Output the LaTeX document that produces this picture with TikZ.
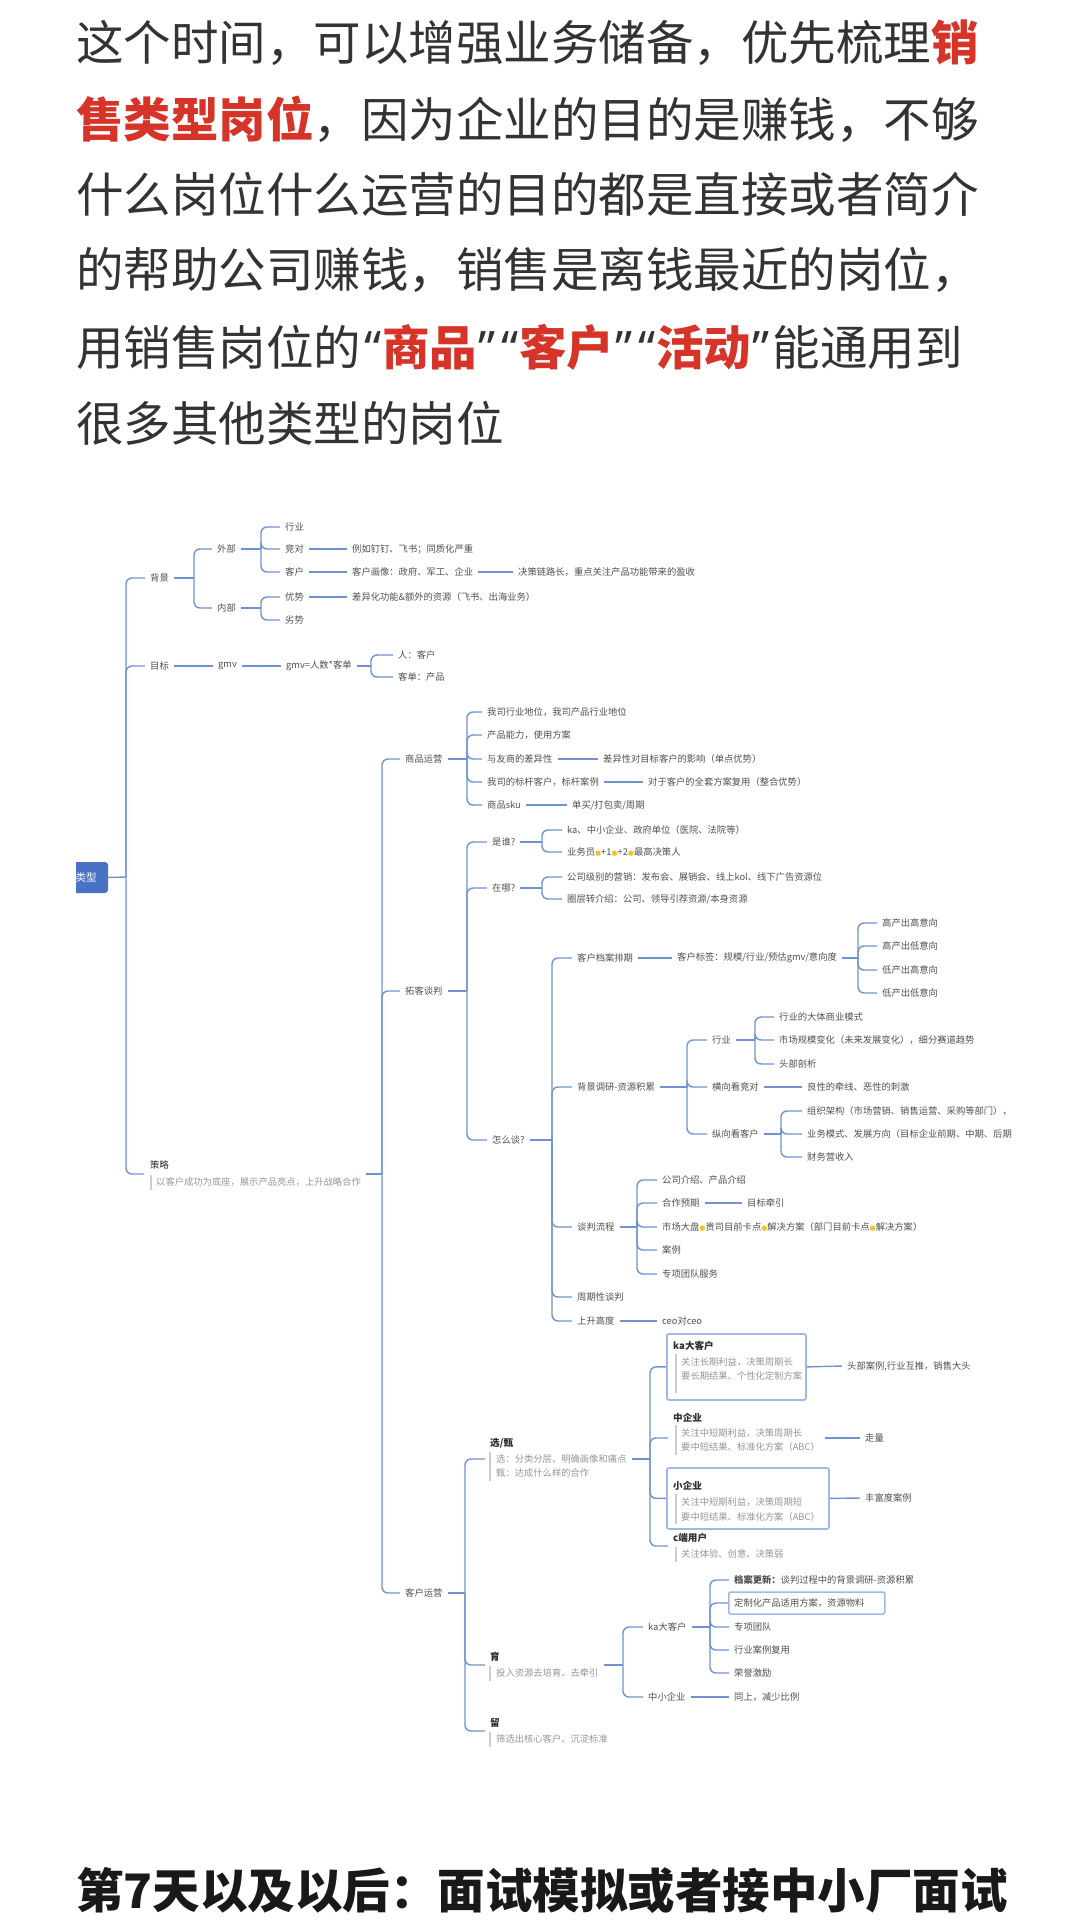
\documentclass[tikz,border=0pt]{standalone}
\usepackage{fontspec}
\setmainfont{Noto Sans CJK SC}
\newfontfamily\symfont{DejaVu Sans}
\newfontfamily\qfont{Noto Sans}
\definecolor{lnc}{RGB}{112,146,208}
\definecolor{rootc}{RGB}{72,114,196}
\definecolor{mtxt}{RGB}{51,51,51}
\definecolor{redc}{RGB}{214,52,40}
\definecolor{txc}{RGB}{80,80,80}
\definecolor{ttc}{RGB}{45,45,45}
\definecolor{subc}{RGB}{150,150,150}
\definecolor{barc}{RGB}{205,205,205}
\definecolor{boxc}{RGB}{160,184,230}
\definecolor{ydc}{RGB}{246,196,40}
\newcommand\yd{{\symfont\fontsize{7}{8}\selectfont\textcolor{ydc}{●}}}
\newcommand\redpart[1]{{\color{redc}\bfseries #1}}
\newcommand\myoq{{\hspace{3pt}\qfont “\hspace{1pt}}}
\newcommand\mycq{{\hspace{1pt}\qfont ”\hspace{3pt}}}
\begin{document}
\begin{tikzpicture}[x=1pt,y=-1pt,
  para/.style={anchor=west, inner sep=0pt, font=\fontsize{47.5}{57}\selectfont, text=mtxt},
  mmtext/.style={anchor=west, xshift=-5pt, inner xsep=5pt, inner ysep=2pt, font=\fontsize{9.3}{11}\selectfont, text=txc},
  mmbold/.style={mmtext, font=\fontsize{9.6}{11}\selectfont\bfseries, text=ttc},
  mmsub/.style={mmtext, text=subc},
  conn/.style={draw=lnc, line width=1.4pt},
  brk/.style={conn, rounded corners=6pt},
  notebar/.style={draw=barc, line width=1.6pt},
  hbox/.style={draw=boxc, line width=1.8pt, rounded corners=2pt, anchor=north west, inner sep=0pt},
]
\useasboundingbox (0,0) rectangle (1080,1920);
\fill[white] (0,0) rectangle (1080,1920);

% ---------- top paragraph ----------
\node[para] (p1) at (76,43) {这个时间，可以增强业务储备，优先梳理\redpart{销}};
\node[para] (p2) at (76,119) {\redpart{售类型岗位}，因为企业的目的是赚钱，不够};
\node[para] (p3) at (76,194) {什么岗位什么运营的目的都是直接或者简介};
\node[para] (p4) at (76,270) {的帮助公司赚钱，销售是离钱最近的岗位，};
\node[para] (p5) at (76,347) {用销售岗位的\myoq\redpart{商品}\mycq\myoq\redpart{客户}\mycq\myoq\redpart{活动}\mycq 能通用到};
\node[para] (p6) at (76,423) {很多其他类型的岗位};
\node[para, font=\fontsize{47.5}{57}\selectfont\bfseries, text=black!90] (h7) at (76,1890) {第7天以及以后：面试模拟或者接中小厂面试};

% ---------- root ----------
\begin{scope}
\clip (76,850) rectangle (120,905);
\node[fill=rootc, rounded corners=3pt, minimum width=44pt, minimum height=31pt, inner sep=0pt,
      text=white, font=\fontsize{10.5}{12}\selectfont] (root) at (86,877.5) {类型};
\end{scope}
\coordinate (k0) at (126,877);
\draw[conn] (root.east) -- (k0);

% ---------- level 1 ----------
\node[mmtext] (bg) at (150,578) {背景};
\node[mmtext] (mb) at (150,666) {目标};
\node[mmtext, text=ttc] (cl) at (150,1165) {策略};
\node[mmsub] (cl1) at (156,1182) {以客户成功为底座，展示产品亮点，上升战略合作};
\draw[notebar] (151,1175) -- (151,1190);
\coordinate (clin) at (144,1174);
\draw[brk] (k0) |- (bg.west);
\draw[brk] (k0) |- (mb.west);
\draw[brk] (k0) |- (clin);

% 背景
\node[mmtext] (wb) at (217,549) {外部};
\node[mmtext] (nb) at (217,608) {内部};
\coordinate (k1) at (194,578);
\draw[conn] (bg.east) -- (k1);
\draw[brk] (k1) |- (wb.west);
\draw[brk] (k1) |- (nb.west);

\node[mmtext] (hy) at (285,527) {行业};
\node[mmtext] (jd) at (285,549) {竞对};
\node[mmtext] (kh) at (285,572) {客户};
\coordinate (k3) at (261,549);
\draw[conn] (wb.east) -- (k3);
\draw[brk] (k3) |- (hy.west);
\draw[brk] (k3) |- (jd.west);
\draw[brk] (k3) |- (kh.west);
\node[mmtext] (jd1) at (352,549) {例如钉钉、飞书；同质化严重};
\draw[conn] (jd.east) -- (jd1.west);
\node[mmtext] (kh1) at (352,572) {客户画像：政府、军工、企业};
\node[mmtext] (kh2) at (518,572) {决策链路长，重点关注产品功能带来的盈收};
\draw[conn] (kh.east) -- (kh1.west);
\draw[conn] (kh1.east) -- (kh2.west);

\node[mmtext] (ys) at (285,597) {优势};
\node[mmtext] (ls) at (285,620) {劣势};
\coordinate (k4) at (261,608);
\draw[conn] (nb.east) -- (k4);
\draw[brk] (k4) |- (ys.west);
\draw[brk] (k4) |- (ls.west);
\node[mmtext] (ys1) at (352,597) {差异化功能\&额外的资源（飞书、出海业务）};
\draw[conn] (ys.east) -- (ys1.west);

% 目标
\node[mmtext] (gmv) at (218,666) {gmv};
\node[mmtext] (gmv2) at (286,666) {gmv=人数*客单};
\draw[conn] (mb.east) -- (gmv.west);
\draw[conn] (gmv.east) -- (gmv2.west);
\coordinate (k5) at (371,666);
\draw[conn] (gmv2.east) -- (k5);
\node[mmtext] (r1) at (398,655) {人：客户};
\node[mmtext] (r2) at (398,677) {客单：产品};
\draw[brk] (k5) |- (r1.west);
\draw[brk] (k5) |- (r2.west);

% 策略
\coordinate (k2) at (382,1174);
\draw[conn] (cl1.east |- clin) -- (k2);
\node[mmtext] (sp) at (405,759) {商品运营};
\node[mmtext] (tk) at (405,991) {拓客谈判};
\node[mmtext] (ky) at (405,1593) {客户运营};
\draw[brk] (k2) |- (sp.west);
\draw[brk] (k2) |- (tk.west);
\draw[brk] (k2) |- (ky.west);

% 商品运营
\coordinate (k6) at (467,759);
\draw[conn] (sp.east) -- (k6);
\node[mmtext] (sp1) at (487,712) {我司行业地位，我司产品行业地位};
\node[mmtext] (sp2) at (487,735) {产品能力，使用方案};
\node[mmtext] (sp3) at (487,759) {与友商的差异性};
\node[mmtext] (sp4) at (487,782) {我司的标杆客户，标杆案例};
\node[mmtext] (sp5) at (487,805) {商品sku};
\foreach \n in {sp1,sp2,sp3,sp4,sp5} \draw[brk] (k6) |- (\n.west);
\node[mmtext] (sp3a) at (603,759) {差异性对目标客户的影响（单点优势）};
\node[mmtext] (sp4a) at (648,782) {对于客户的全套方案复用（整合优势）};
\node[mmtext] (sp5a) at (572,805) {单买/打包卖/周期};
\draw[conn] (sp3.east) -- (sp3a.west);
\draw[conn] (sp4.east) -- (sp4a.west);
\draw[conn] (sp5.east) -- (sp5a.west);

% 拓客谈判
\coordinate (k7) at (467,991);
\draw[conn] (tk.east) -- (k7);
\node[mmtext] (sw) at (492,842) {是谁?};
\node[mmtext] (zn) at (492,888) {在哪?};
\node[mmtext] (zm) at (492,1140) {怎么谈?};
\foreach \n in {sw,zn,zm} \draw[brk] (k7) |- (\n.west);

\coordinate (k8) at (542,842);
\draw[conn] (sw.east) -- (k8);
\node[mmtext] (sw1) at (567,830) {ka、中小企业、政府单位（医院、法院等）};
\node[mmtext] (sw2) at (567,852) {业务员\yd+1\yd+2\yd 最高决策人};
\draw[brk] (k8) |- (sw1.west);
\draw[brk] (k8) |- (sw2.west);

\coordinate (k9) at (542,888);
\draw[conn] (zn.east) -- (k9);
\node[mmtext] (zn1) at (567,877) {公司级别的营销：发布会、展销会、线上kol、线下广告资源位};
\node[mmtext] (zn2) at (567,899) {圈层转介绍：公司、领导引荐资源/本身资源};
\draw[brk] (k9) |- (zn1.west);
\draw[brk] (k9) |- (zn2.west);

% 怎么谈
\coordinate (k10) at (552,1140);
\draw[conn] (zm.east) -- (k10);
\node[mmtext] (da) at (577,958) {客户档案排期};
\node[mmtext] (bj) at (577,1087) {背景调研-资源积累};
\node[mmtext] (tp) at (577,1227) {谈判流程};
\node[mmtext] (zq) at (577,1297) {周期性谈判};
\node[mmtext] (ss) at (577,1321) {上升高度};
\foreach \n in {da,bj,tp,zq,ss} \draw[brk] (k10) |- (\n.west);

\node[mmtext] (da1) at (677,958) {客户标签：规模/行业/预估gmv/意向度};
\draw[conn] (da.east) -- (da1.west);
\coordinate (k11) at (858,958);
\draw[conn] (da1.east) -- (k11);
\node[mmtext] (q1) at (882,923) {高产出高意向};
\node[mmtext] (q2) at (882,946) {高产出低意向};
\node[mmtext] (q3) at (882,970) {低产出高意向};
\node[mmtext] (q4) at (882,993) {低产出低意向};
\foreach \n in {q1,q2,q3,q4} \draw[brk] (k11) |- (\n.west);

\coordinate (k12) at (687,1087);
\draw[conn] (bj.east) -- (k12);
\node[mmtext] (bj1) at (712,1040) {行业};
\node[mmtext] (bj2) at (712,1087) {横向看竞对};
\node[mmtext] (bj3) at (712,1134) {纵向看客户};
\foreach \n in {bj1,bj2,bj3} \draw[brk] (k12) |- (\n.west);
\coordinate (k13) at (755,1040);
\draw[conn] (bj1.east) -- (k13);
\node[mmtext] (h1) at (779,1017) {行业的大体商业模式};
\node[mmtext] (h2) at (779,1040) {市场规模变化（未来发展变化），细分赛道趋势};
\node[mmtext] (h3) at (779,1064) {头部剖析};
\foreach \n in {h1,h2,h3} \draw[brk] (k13) |- (\n.west);
\node[mmtext] (bj2a) at (807,1087) {良性的牵线、恶性的刺激};
\draw[conn] (bj2.east) -- (bj2a.west);
\coordinate (k14) at (781,1134);
\draw[conn] (bj3.east) -- (k14);
\node[mmtext] (v1) at (807,1111) {组织架构（市场营销、销售运营、采购等部门），};
\node[mmtext] (v2) at (807,1134) {业务模式、发展方向（目标企业前期、中期、后期};
\node[mmtext] (v3) at (807,1157) {财务营收入};
\foreach \n in {v1,v2,v3} \draw[brk] (k14) |- (\n.west);

\coordinate (k15) at (637,1227);
\draw[conn] (tp.east) -- (k15);
\node[mmtext] (t1) at (662,1180) {公司介绍、产品介绍};
\node[mmtext] (t2) at (662,1203) {合作预期};
\node[mmtext] (t3) at (662,1227) {市场大盘\yd 贵司目前卡点\yd 解决方案（部门目前卡点\yd 解决方案）};
\node[mmtext] (t4) at (662,1250) {案例};
\node[mmtext] (t5) at (662,1274) {专项团队服务};
\foreach \n in {t1,t2,t3,t4,t5} \draw[brk] (k15) |- (\n.west);
\node[mmtext] (t2a) at (747,1203) {目标牵引};
\draw[conn] (t2.east) -- (t2a.west);
\node[mmtext] (ss1) at (662,1321) {ceo对ceo};
\draw[conn] (ss.east) -- (ss1.west);

% ---------- 客户运营 ----------
\coordinate (k16) at (465,1593);
\draw[conn] (ky.east) -- (k16);

% 选/甄
\node[mmbold] (xz) at (490,1443) {选/甄};
\node[mmsub] (xz1) at (496,1459) {选：分类分层、明确画像和痛点};
\node[mmsub] (xz2) at (496,1473) {甄：达成什么样的合作};
\draw[notebar] (490,1452) -- (490,1481);
\coordinate (xzin) at (485,1459);
\coordinate (k17) at (650,1459);
\draw[conn] (xz1.east) -- (k17);

% ka大客户 box
\node[hbox, minimum width=139pt, minimum height=66pt] (kab) at (666,1333) {};
\node[mmbold] (kat) at (673,1346) {ka大客户};
\node[mmsub] (ka1) at (681,1362) {关注长期利益，决策周期长};
\node[mmsub] (ka2) at (681,1376) {要长期结果、个性化定制方案};
\draw[notebar] (676,1354) -- (676,1393);
\node[mmtext] (kar) at (847,1366) {头部案例,行业互推，销售大头};
\draw[conn] (kab.east) -- (kar.west);

% 中企业
\node[mmbold] (zt) at (673,1418) {中企业};
\node[mmsub] (zt1) at (681,1433) {关注中短期利益，决策周期长};
\node[mmsub] (zt2) at (681,1447) {要中短结果、标准化方案（ABC）};
\draw[notebar] (676,1425) -- (676,1455);
\coordinate (ztin) at (668,1438);
\node[mmtext] (ztr) at (865,1438) {走量};
\draw[conn] (zt2.east |- ztin) -- (ztr.west);

% 小企业 box
\node[hbox, minimum width=162pt, minimum height=61pt] (xqb) at (666,1467) {};
\node[mmbold] (xqt) at (673,1486) {小企业};
\node[mmsub] (xq1) at (681,1502) {关注中短期利益，决策周期短};
\node[mmsub] (xq2) at (681,1517) {要中短结果、标准化方案（ABC）};
\draw[notebar] (676,1494) -- (676,1524);
\node[mmtext] (xqr) at (865,1498) {丰富度案例};
\draw[conn] (xqb.east) -- (xqr.west);

% c端用户
\node[mmbold] (cd) at (673,1538) {c端用户};
\node[mmsub] (cd1) at (681,1554) {关注体验、创意、决策弱};
\draw[notebar] (676,1547) -- (676,1562);
\coordinate (cdin) at (668,1546);

\draw[brk] (k17) |- (kab.west);
\draw[brk] (k17) |- (ztin);
\draw[brk] (k17) |- (xqb.west);
\draw[brk] (k17) |- (cdin);

% 育
\node[mmbold] (yu) at (490,1657) {育};
\node[mmsub] (yu1) at (496,1673) {投入资源去培育、去牵引};
\draw[notebar] (490,1666) -- (490,1681);
\coordinate (yuin) at (485,1665);
\coordinate (k18) at (623,1665);
\draw[conn] (yu1.east |- yuin) -- (k18);
\node[mmtext] (yk) at (648,1627) {ka大客户};
\node[mmtext] (yz) at (648,1697) {中小企业};
\draw[brk] (k18) |- (yk.west);
\draw[brk] (k18) |- (yz.west);
\coordinate (k19) at (710,1627);
\draw[conn] (yk.east) -- (k19);
\node[draw=boxc, line width=1.5pt, rounded corners=1.5pt, minimum width=156pt, minimum height=22pt, anchor=west, inner sep=0pt] (dzb) at (728,1603) {};
\node[mmtext] (y1) at (734,1580) {{\bfseries 档案更新：}谈判过程中的背景调研-资源积累};
\node[mmtext] (y2) at (734,1603) {定制化产品适用方案，资源物料};
\node[mmtext] (y3) at (734,1627) {专项团队};
\node[mmtext] (y4) at (734,1650) {行业案例复用};
\node[mmtext] (y5) at (734,1673) {荣誉激励};
\draw[brk] (k19) |- (y1.west);
\draw[brk] (k19) |- (dzb.west);
\draw[brk] (k19) |- (y3.west);
\draw[brk] (k19) |- (y4.west);
\draw[brk] (k19) |- (y5.west);
\node[mmtext] (yz1) at (734,1697) {同上，减少比例};
\draw[conn] (yz.east) -- (yz1.west);

% 留
\node[mmbold] (li) at (490,1723) {留};
\node[mmsub] (li1) at (496,1739) {筛选出核心客户、沉淀标准};
\draw[notebar] (490,1732) -- (490,1747);
\coordinate (liin) at (485,1731);

\draw[brk] (k16) |- (xzin);
\draw[brk] (k16) |- (yuin);
\draw[brk] (k16) |- (liin);
\end{tikzpicture}
\end{document}
